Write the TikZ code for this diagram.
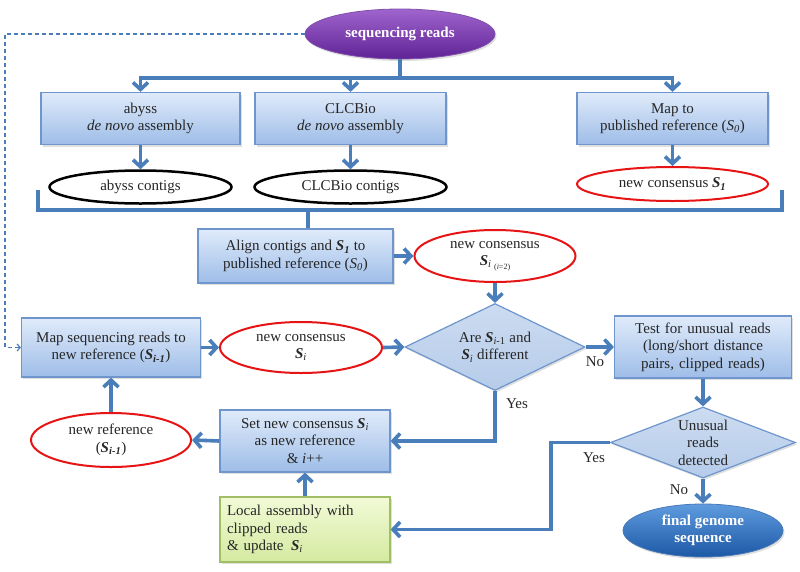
\documentclass[tikz,border=0pt]{standalone}
\usepackage{fontspec}
\setmainfont{Liberation Serif}
\usetikzlibrary{arrows.meta,shapes.geometric,shadows}
\definecolor{arr}{RGB}{74,126,187}
\definecolor{boxtop}{RGB}{224,235,250}
\definecolor{boxbot}{RGB}{158,189,232}
\definecolor{boxline}{RGB}{110,150,204}
\definecolor{redline}{RGB}{230,20,20}
\definecolor{purtop}{RGB}{160,100,205}
\definecolor{purbot}{RGB}{95,35,150}
\definecolor{fintop}{RGB}{95,155,222}
\definecolor{finbot}{RGB}{28,88,165}
\definecolor{grtop}{RGB}{242,250,215}
\definecolor{grbot}{RGB}{212,234,160}
\definecolor{grline}{RGB}{160,190,100}
\definecolor{dia}{RGB}{182,204,234}
\newcommand{\Sb}{\textbf{\textit{S}}}
\begin{document}
\begin{tikzpicture}[x=1pt,y=-1pt,
  font=\fontsize{15}{17.5}\selectfont,
  shadowed/.style={drop shadow={opacity=0.25,shadow xshift=1.5pt,shadow yshift=-2pt}},
  bluebox/.style={rectangle,draw=boxline,line width=1.2pt,top color=boxtop,bottom color=boxbot,
    align=center,inner sep=0pt,text=black!85,shadowed},
  redell/.style={ellipse,draw=redline,line width=2pt,fill=white,align=center,inner sep=0pt,text=black!85},
  blackell/.style={ellipse,draw=black,line width=2.5pt,fill=white,align=center,inner sep=0pt,text=black!85},
  decision/.style={diamond,draw=boxline,line width=1.2pt,top color=dia!70!white,bottom color=dia,
    align=center,inner sep=0pt,aspect=2,text=black!85,shadowed},
  conn/.style={draw=arr,line width=3.6pt},
  arrow/.style={conn,-{Straight Barb[length=7pt,width=15pt]}},
  lbl/.style={text=black!85,inner sep=0pt}
]
\useasboundingbox (0,0) rectangle (800,571);

% top
\node[ellipse,top color=purtop,bottom color=purbot,draw=purbot!80!white,line width=0.8pt,
  minimum width=190pt,minimum height=50pt,inner sep=0pt,text=white,font=\fontsize{15}{17.5}\selectfont\bfseries,shadowed]
  (seq) at (400,34) {sequencing reads};

\node[bluebox,minimum width=199pt,minimum height=52pt] (abyss) at (140.5,118.5) {abyss\\\textit{de novo} assembly};
\node[bluebox,minimum width=191pt,minimum height=52pt] (clc) at (350.5,118.5) {CLCBio\\\textit{de novo} assembly};
\node[bluebox,minimum width=191pt,minimum height=52pt] (mapto) at (672.5,118.5) {Map to\\published reference (\textit{S\textsubscript{0}})};

\node[blackell,minimum width=182pt,minimum height=33pt] (abc) at (140.5,187) {abyss contigs};
\node[blackell,minimum width=192pt,minimum height=33pt] (clcc) at (350.5,187) {CLCBio contigs};
\node[redell,minimum width=191pt,minimum height=34pt] (s1) at (672.5,184) {new consensus \Sb\textsubscript{\textbf{\textit{1}}}};

\node[bluebox,minimum width=195pt,minimum height=54pt] (align) at (295.5,256) {Align contigs and \Sb\textsubscript{\textbf{\textit{1}}} to\\published reference (\textit{S\textsubscript{0}})};
\node[redell,minimum width=161pt,minimum height=52pt] (si2) at (495,256) {new consensus\\\Sb\textsubscript{\textit{i}}\,\raisebox{-3.5pt}{\fontsize{8}{9}\selectfont(\textit{i}=2)}};

% middle
\node[bluebox,minimum width=179pt,minimum height=59pt] (mapseq) at (111,347.5) {Map sequencing reads to\\new reference (\Sb\textsubscript{\textbf{\textit{i-1}}})};
\node[redell,minimum width=162pt,minimum height=51pt] (nci) at (301,347.5) {new consensus\\\Sb\textsubscript{\textit{i}}};
\node[decision,minimum width=180pt,minimum height=87pt] (are) at (495,347) {Are \Sb\textsubscript{\textit{i}-1} and\\\Sb\textsubscript{\textit{i}} different};
\node[bluebox,minimum width=177pt,minimum height=62pt,text width=170pt] (test) at (703,347) {Test for unusual reads\\(long/short distance\\pairs, clipped reads)};

% lower
\node[redell,minimum width=160pt,minimum height=54pt] (newref) at (111,440) {new reference\\(\Sb\textsubscript{\textbf{\textit{i-1}}})};
\node[bluebox,minimum width=170pt,minimum height=62pt] (setb) at (305,441) {Set new consensus \Sb\textsubscript{\textit{i}}\\as new reference\\\& \textit{i}++};
\node[rectangle,draw=grline,line width=1.2pt,top color=grtop,bottom color=grbot,
  minimum width=170pt,minimum height=65pt,inner sep=0pt,text width=156pt,align=left,text=black!85,shadowed]
  (local) at (305,529.5) {Local assembly with\\clipped reads\\\& update\enspace\Sb\textsubscript{\textit{i}}};
\node[decision,minimum width=185pt,minimum height=71pt] (unus) at (703,442.5) {Unusual\\reads\\detected};
\node[ellipse,top color=fintop,bottom color=finbot,draw=finbot!80!white,line width=0.8pt,
  minimum width=160pt,minimum height=53pt,inner sep=0pt,align=center,text=white,
  font=\fontsize{15}{17.5}\selectfont\bfseries,shadowed] (final) at (703,530.5) {final genome\\sequence};

% coordinates
\coordinate (dl) at (5,34);
\coordinate (bar) at (400,78);
\coordinate (brl) at (38,190);
\coordinate (brr) at (782,190);
\coordinate (stem) at (308,210);
\coordinate (ycorner) at (551,442.5);

% connectors
\draw[draw=arr,line width=1.2pt,dash pattern=on 4pt off 3pt,-{Straight Barb[length=3pt,width=7pt]}] (seq.west) -- (dl) |- (mapseq.west);
\draw[conn] (seq.south) -- (bar);
\draw[arrow] (bar) -| (abyss.north);
\draw[arrow] (bar) -| (clc.north);
\draw[arrow] (bar) -| (mapto.north);
\draw[arrow] (abyss.south) -- (abc.north);
\draw[arrow] (clc.south) -- (clcc.north);
\draw[arrow] (mapto.south) -- (s1.north);
\draw[conn] (brl) -- (brl |- stem) -- (brr |- stem) -- (brr);
\draw[conn] (stem) -- (stem |- align.north);
\draw[arrow] (align.east) -- (si2.west);
\draw[arrow] (si2.south) -- (are.north);
\draw[arrow] (mapseq.east) -- (nci.west);
\draw[arrow] (nci.east) -- (are.west);
\draw[arrow] (are.east) -- (test.west);
\draw[arrow] (test.south) -- (unus.north);
\draw[arrow] (unus.south) -- (final.north);
\draw[arrow] (are.south) |- (setb.east);
\draw[arrow] (unus.west) -- (ycorner) |- (local.east);
\draw[arrow] (local.north) -- (setb.south);
\draw[arrow] (setb.west) -- (newref.east);
\draw[arrow] (newref.north) -- (mapseq.south);

% labels
\node[lbl] (no1) at (595,362) {No};
\node[lbl] (yes1) at (517,404) {Yes};
\node[lbl] (yes2) at (594,458) {Yes};
\node[lbl] (no2) at (679,490) {No};
\end{tikzpicture}
\end{document}
